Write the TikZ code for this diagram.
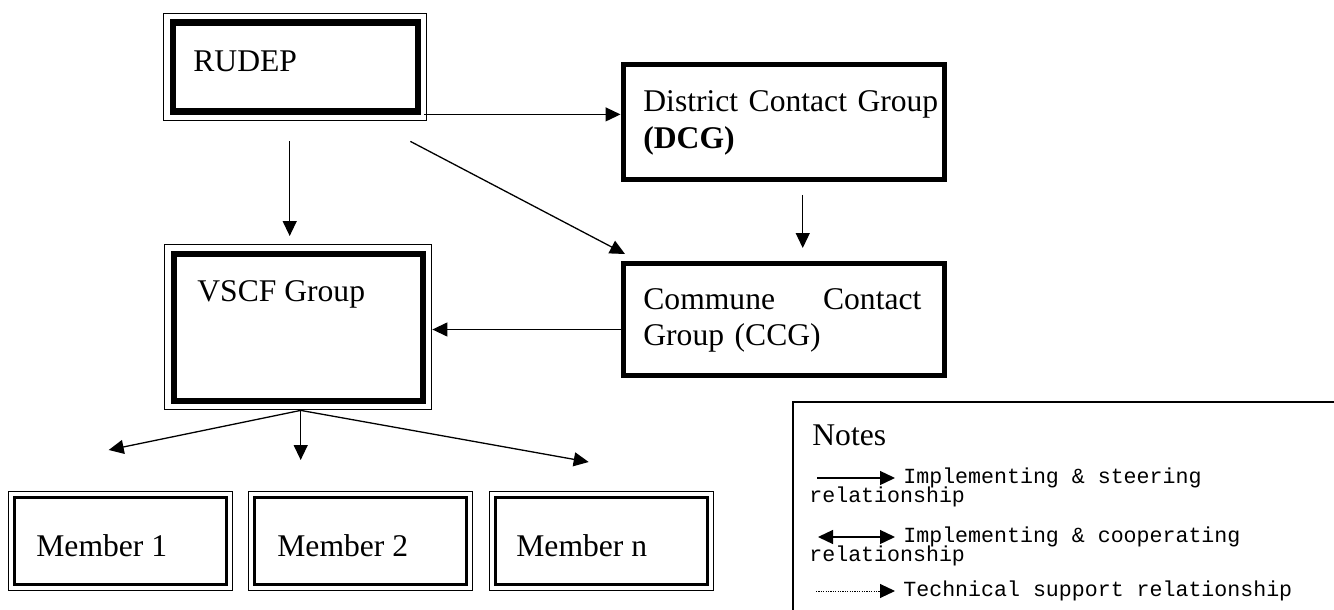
\documentclass[tikz,border=0pt]{standalone}
\usepackage{fontspec}
\setmainfont{Liberation Serif}
\setmonofont{Liberation Mono}
\usepackage{tikz}
\usetikzlibrary{arrows.meta,positioning,calc}

\begin{document}
\begin{tikzpicture}[x=0.5pt,y=-0.5pt,
  bigbox/.style={draw,line width=0.7pt,inner sep=0pt,anchor=north west,
    path picture={\draw[line width=3.2pt] ([shift={(4.5pt,-4.5pt)}]path picture bounding box.north west) rectangle ([shift={(-4.5pt,4.5pt)}]path picture bounding box.south east);}},
  membox/.style={draw,line width=0.7pt,inner sep=0pt,anchor=north west,minimum width=112pt,minimum height=49.5pt,
    path picture={\draw[line width=1.3pt] ([shift={(3pt,-3pt)}]path picture bounding box.north west) rectangle ([shift={(-3pt,3pt)}]path picture bounding box.south east);}},
  frame/.style={draw,line width=2.5pt,inner sep=0pt,anchor=north west},
  txt/.style={anchor=base west,inner sep=0pt,font=\fontsize{15.8}{18.25}\selectfont},
  note/.style={anchor=base west,inner sep=0pt,font=\ttfamily\fontsize{10.8}{12}\selectfont},
  arr/.style={-{Triangle[length=7.5pt,width=7pt]},line width=0.65pt}]

\useasboundingbox (0,0) rectangle (1334,610);

%Top level
\node[bigbox,minimum width=131.5pt,minimum height=53.5pt] (rudep) at (163,13) {};
\node[txt] (rudep-t) at (193,72) {RUDEP};

\node[frame,minimum width=160.75pt,minimum height=57.5pt] (dcg) at (620.5,62) {};
\node[txt,text width=150pt,align=left] (dcg-t) at (643,112) {District Contact Group\\\textbf{(DCG)}};

% Group level
\node[bigbox,minimum width=133.5pt,minimum height=82.5pt] (vscf) at (164,244) {};
\node[txt] (vscf-t) at (197,301) {VSCF Group};

\node[frame,minimum width=160.5pt,minimum height=56pt] (ccg) at (621,261) {};
\node[txt,text width=139pt,align=left] (ccg-t) at (643,309) {Commune\hfill Contact\\Group (CCG)};

% Members
\node[membox] (m1) at (8,491) {};
\node[txt] (m1-t) at (36,556) {Member 1};
\node[membox] (m2) at (248,491) {};
\node[txt] (m2-t) at (277,556) {Member 2};
\node[membox] (mn) at (489,491) {};
\node[txt] (mn-t) at (516,556) {Member n};

% Connections
\coordinate (r-e) at ($(rudep.south east)+(-3,-7)$);
\draw[arr] (r-e) -- (r-e -| dcg.west);
\coordinate (r-s) at ($(rudep.south)+(-5.5,20)$);
\draw[arr] (r-s) -- ($(r-s |- vscf.north)+(0,-8)$);
\draw[arr] ($(rudep.south east)+(-17,20)$) -- ($(ccg.north west)+(4,-7)$);
\coordinate (d-s) at ($(dcg.south)+(19,13)$);
\draw[arr] (d-s) -- ($(d-s |- ccg.north)+(0,-13)$);
\coordinate (c-w) at ($(ccg.west)+(0,10)$);
\draw[arr] (c-w) -- (c-w -| vscf.east);

\coordinate (v-s) at ($(vscf.south)+(2.5,0)$);
\draw[arr] (v-s) -- ($(m1.north)+(-12,-41)$);
\draw[arr] (v-s) -- ($(m2.north)+(-60,-31)$);
\draw[arr] (v-s) -- ($(mn.north)+(-13,-29)$);

% Notes
\node[draw,line width=0.8pt,inner sep=0pt,anchor=north west,minimum width=276.5pt,minimum height=110pt] (notes) at (792,401) {};
\node[txt] (notes-t) at (812,445) {Notes};

\coordinate (k1) at (817,478);
\draw[arr] (k1) -- ++(78,0);
\node[note] (k1-t) at (903,483) {Implementing \& steering};
\node[note] (k1-r) at (809,502) {relationship};

\coordinate (k2) at (818,537);
\draw[arr,{Triangle[length=7.5pt,width=7pt]}-{Triangle[length=7.5pt,width=7pt]}] (k2) -- ++(77,0);
\node[note] (k2-t) at (903,542) {Implementing \& cooperating};
\node[note] (k2-r) at (809,561) {relationship};

\coordinate (k3) at (816,591);
\draw[arr,line width=0.5pt,dash pattern=on 0.6pt off 0.6pt] (k3) -- ++(79,0);
\node[note] (k3-t) at (903,596) {Technical support relationship};

\end{tikzpicture}
\end{document}
